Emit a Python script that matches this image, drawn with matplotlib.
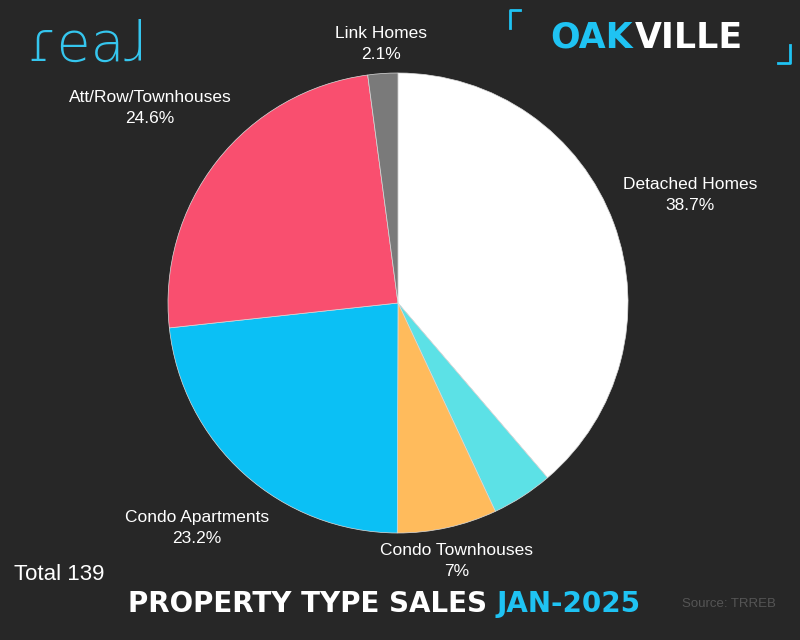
import numpy as np
import matplotlib.pyplot as plt

labels = ['Detached Homes', '', 'Condo Townhouses', 'Condo Apartments',
          'Att/Row/Townhouses', 'Link Homes']
shares = [38.7, 4.3, 7.0, 23.2, 24.6, 2.1]
pct_text = ['38.7%', '', '7%', '23.2%', '24.6%', '2.1%']
colors = ['#ffffff', '#5ce1e6', '#ffbb5c', '#0bc0f5', '#f94f6f', '#7a7a7a']
total = 139

BG = '#272727'
fig = plt.figure(figsize=(8, 6.4), dpi=100, facecolor=BG)
ax = fig.add_axes([0, 0, 1, 1])

cx, cy, r = 398, 337, 230
wedges, _ = ax.pie(shares, colors=colors, startangle=90, counterclock=False,
                   center=(cx, cy), radius=r, frame=True,
                   wedgeprops=dict(linewidth=0.5, edgecolor='#dddddd'))
ax.set_xlim(0, 800)
ax.set_ylim(0, 640)
ax.set_aspect('equal')
ax.axis('off')

# label positions (pixel offsets from the top-left, then flipped)
label_pos = {0: (690, 195), 2: (457, 561), 3: (197, 528), 4: (150, 108), 5: (381, 44)}
for i, (x, y) in label_pos.items():
    ax.text(x, 640 - y, f'{labels[i]}\n{pct_text[i]}', color='white', fontsize=12.5,
            ha='center', va='center', linespacing=1.45, family='Liberation Sans')

ax.text(14, 640 - 574, f'Total {total}', color='white', fontsize=16,
        ha='left', va='center', family='Liberation Sans')
ax.text(776, 640 - 604, 'Source: TRREB', color='#555555', fontsize=9.5,
        ha='right', va='center', family='Liberation Sans')

t1 = ax.text(128, 640 - 604, 'PROPERTY TYPE SALES ', color='white', fontsize=20,
             fontweight='heavy', ha='left', va='center', family='DejaVu Sans')
fig.canvas.draw()
bb = t1.get_window_extent()
ax.text(bb.x1, 640 - 604, 'JAN-2025', color='#1fc3f3', fontsize=20,
        fontweight='heavy', ha='left', va='center', family='DejaVu Sans')

# logos
ax.text(88, 640 - 46, 'ɾeaɺ', color='#35c6ee', fontsize=40, ha='center', va='center',
        family='DejaVu Sans', fontweight='light')
t2 = ax.text(550, 640 - 38, 'OAK', color='#1fc3f3', fontsize=25, fontweight='bold',
             ha='left', va='center', family='DejaVu Sans')
fig.canvas.draw()
bb2 = t2.get_window_extent()
ax.text(bb2.x1 + 2, 640 - 38, 'VILLE', color='white', fontsize=25, fontweight='bold',
        ha='left', va='center', family='DejaVu Sans')
ax.plot([510, 510, 520], [640 - 28, 640 - 10, 640 - 10], color='#1fc3f3', lw=2)
ax.plot([778, 790, 790], [640 - 63, 640 - 63, 640 - 45], color='#1fc3f3', lw=2)

fig.savefig('out.png', dpi=100, facecolor=BG)
